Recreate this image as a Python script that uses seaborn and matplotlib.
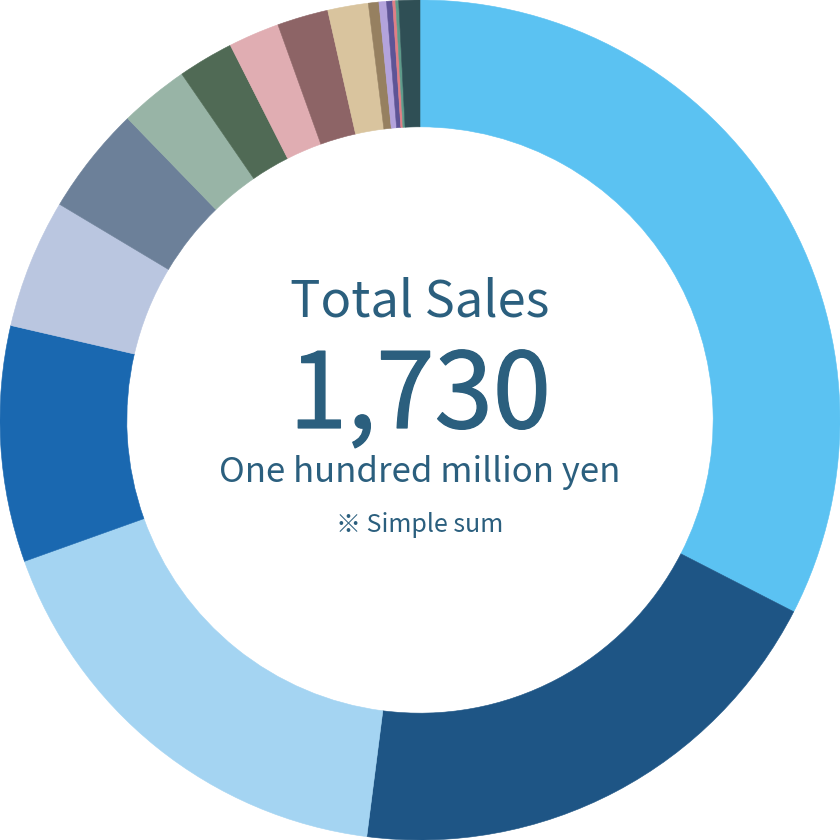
import matplotlib
matplotlib.use("Agg")
import matplotlib.pyplot as plt
import matplotlib.patheffects as pe
import seaborn as sns

# Segment values (hundred million yen), clockwise from 12 o'clock
segments = ["Seg1", "Seg2", "Seg3", "Seg4", "Seg5", "Seg6", "Seg7", "Seg8", "Seg9",
            "Seg10", "Seg11", "Seg12", "Seg13", "Seg14", "Seg15", "Seg16", "Seg17"]
values = [563, 337, 303, 157, 86, 72, 46, 37, 34, 34, 27, 7, 5, 4, 2, 2, 14]
colors = ["#5BC2F2", "#1E5585", "#A4D4F2", "#1A68B0", "#BAC6E0", "#6C8099",
          "#98B4A6", "#506A55", "#E0ADB2", "#8D6466", "#D9C49E", "#968060",
          "#B3A3DC", "#5E5496", "#E07F85", "#5E9A8A", "#2F4F55"]

title_text = "Total Sales"
total_text = "1,730"
unit_text = "One hundred million yen"
note_text = "※ Simple sum"

sns.set_style("white")
plt.rcParams["font.family"] = ["Noto Sans CJK JP", "DejaVu Sans"]

fig = plt.figure(figsize=(8.4, 8.4), dpi=100)
ax = fig.add_axes([0, 0, 1, 1])
palette = sns.color_palette(colors)
ax.pie(values, colors=palette, startangle=90, counterclock=False, radius=1.0,
       wedgeprops=dict(width=0.302, linewidth=0.4, antialiased=True))
for w, c in zip(ax.patches, palette):
    w.set_edgecolor(c)
ax.set_xlim(-1.0, 1.0)
ax.set_ylim(-1.0, 1.0)
ax.set_aspect("equal")
ax.axis("off")

tc = "#2B5F7E"
ax.text(0, 0.2476, title_text, ha="center", va="baseline", fontsize=36.5, color=tc)
ax.text(0, -0.019, total_text, ha="center", va="baseline", fontsize=75.5, color=tc,
        fontweight="normal",
        path_effects=[pe.withStroke(linewidth=0.9, foreground=tc)])
ax.text(0, -0.148, unit_text, ha="center", va="baseline", fontsize=25, color=tc)
ax.text(0, -0.267, note_text, ha="center", va="baseline", fontsize=18, color=tc)

fig.savefig("out.png", dpi=100, facecolor="white")
